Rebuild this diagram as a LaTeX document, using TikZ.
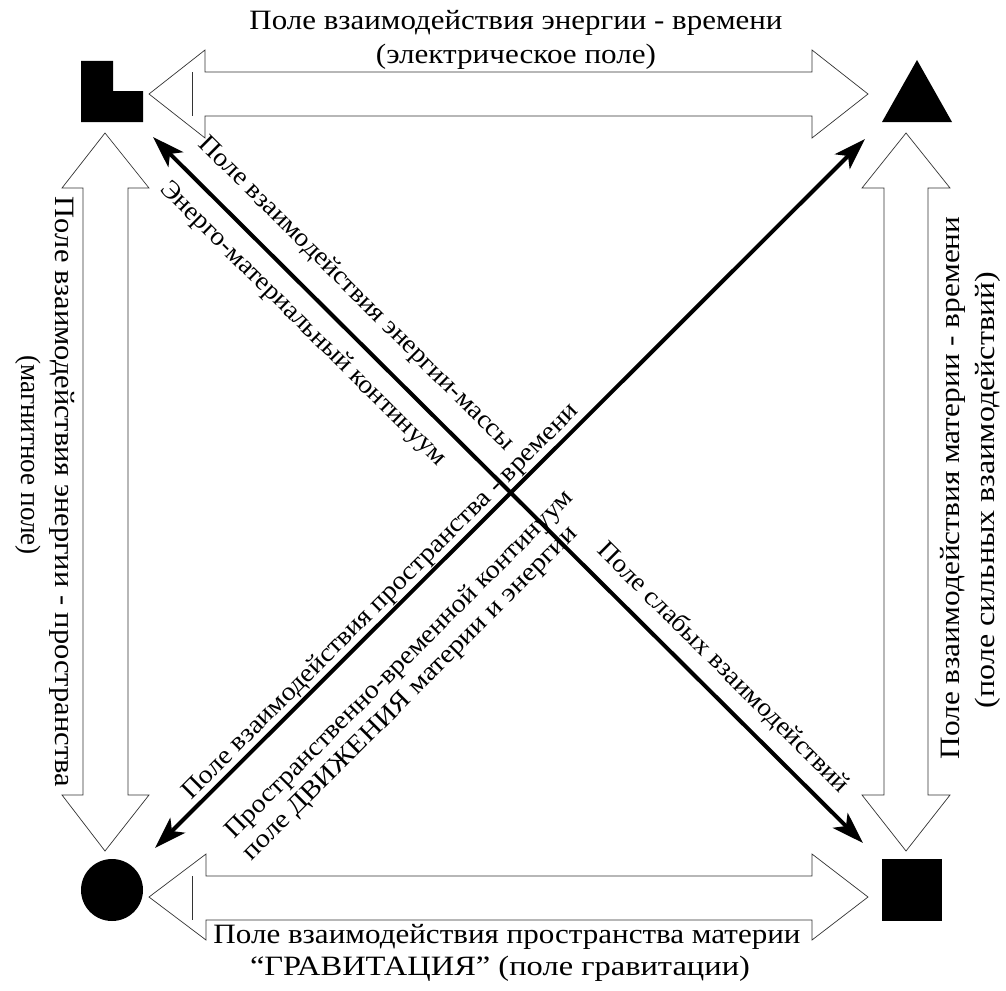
\documentclass[tikz,border=0pt]{standalone}
\usepackage{fontspec}
\setmainfont{Liberation Serif}
\usetikzlibrary{arrows.meta}
\begin{document}
\begin{tikzpicture}[x=1pt,y=-1pt,
  blk/.style={draw=black!80, line width=0.7pt, fill=white},
  tipS/.tip={Stealth[length=32pt,width=21pt,inset=8pt]},
  diag/.style={line width=4pt, tipS-tipS},
  lbl/.style={inner sep=0pt, font=\fontsize{28}{33}\selectfont},
  dlbl/.style={inner sep=0pt, font=\fontsize{26}{30}\selectfont}
]
\useasboundingbox (0,0) rectangle (1006,990);

% corner figures
\fill (81,61) -- (113,61) -- (113,91) -- (143,91) -- (143,122) -- (81,122) -- cycle;
\fill (917,60) -- (952,122) -- (882,122) -- cycle;
\fill (112,890) circle[radius=31];
\fill (882,859) rectangle (942,921);

% hollow double block arrows
\draw[blk] (149,94) -- (205,50) -- (205,72) -- (812,72) -- (812,50) -- (868,94) -- (812,138) -- (812,116) -- (205,116) -- (205,138) -- cycle;
\draw[blk] (192,72) -- (192,116);
\draw[blk] (149,897) -- (206,854) -- (206,876) -- (812,876) -- (812,854) -- (868,897) -- (812,940) -- (812,920) -- (206,920) -- (206,940) -- cycle;
\draw[blk] (192,876) -- (192,920);
\draw[blk] (105,133) -- (149,188) -- (128,188) -- (128,795) -- (149,795) -- (105,851) -- (62,795) -- (83,795) -- (83,188) -- (62,188) -- cycle;
\draw[blk] (906,133) -- (950,188) -- (928,188) -- (928,795) -- (950,795) -- (906,851) -- (862,795) -- (884,795) -- (884,188) -- (862,188) -- cycle;

% diagonal arrows
\coordinate (tl) at (153,137);
\coordinate (br) at (863,843);
\coordinate (bl) at (155,848);
\coordinate (tr) at (865,139);
\draw[diag] (tl) -- (br);
\draw[diag] (bl) -- (tr);

% side labels
\node[lbl] (t1) at (516,23) {\resizebox{533pt}{\height}{Поле взаимодействия энергии - времени}};
\node[lbl] (t2) at (516,57) {\resizebox{280pt}{\height}{(электрическое поле)}};
\node[lbl,rotate=-90] (l1) at (62,492) {\resizebox{590pt}{\height}{Поле взаимодействия энергии - пространства}};
\node[lbl,rotate=-90] (l2) at (28,455) {\resizebox{200pt}{\height}{(магнитное поле)}};
\node[lbl,rotate=90] (r1) at (953,488) {\resizebox{543pt}{\height}{Поле взаимодействия материи - времени}};
\node[lbl,rotate=90] (r2) at (988,490) {\resizebox{436pt}{\height}{(поле сильных взаимодействий)}};
\node[lbl] (b1) at (507,937) {\resizebox{587pt}{\height}{Поле взаимодействия пространства материи}};
\node[lbl] (b2) at (500,969) {\resizebox{500pt}{\height}{“ГРАВИТАЦИЯ” (поле гравитации)}};

% diagonal labels
\node[dlbl,rotate=-44.8] (da) at (356,294) {\resizebox{434pt}{\height}{Поле взаимодействия энергии-массы}};
\node[dlbl,rotate=-44.8] (db) at (303,324) {\resizebox{392pt}{\height}{Энерго-материальный континуум}};
\node[dlbl,rotate=-44.8] (dc) at (723,668) {\resizebox{343pt}{\height}{Поле слабых взаимодействий}};
\node[dlbl,rotate=45] (dd) at (381,602) {\resizebox{549pt}{\height}{Поле взаимодействия пространства - времени}};
\node[dlbl,rotate=45] (de1) at (400,665) {\resizebox{481pt}{\height}{Пространственно-временной континуум}};
\node[dlbl,rotate=45] (de2) at (411,694) {\resizebox{463pt}{\height}{поле ДВИЖЕНИЯ материи и энергии}};
\end{tikzpicture}
\end{document}
